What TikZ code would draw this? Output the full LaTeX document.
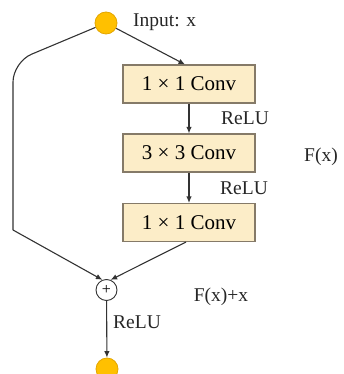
\documentclass[tikz,border=0pt]{standalone}
\usepackage{fontspec}
\setmainfont{Liberation Serif}
\usetikzlibrary{arrows.meta}
\definecolor{dotfill}{HTML}{FFC000}
\definecolor{dotline}{HTML}{E3A600}
\definecolor{boxfill}{HTML}{FCEDC8}
\definecolor{boxline}{HTML}{857A68}
\definecolor{wire}{HTML}{333333}
\begin{document}
\begin{tikzpicture}[x=1pt,y=-1pt,
  font=\fontsize{19.5}{21}\selectfont,
  dot/.style={circle,fill=dotfill,draw=dotline,line width=0.8pt,minimum size=22pt,inner sep=0pt},
  convbox/.style={rectangle,fill=boxfill,draw=boxline,line width=1.1pt,minimum width=132pt,minimum height=38pt,inner sep=0pt,font=\fontsize{21}{22}\selectfont},
  addnode/.style={circle,draw=wire,fill=white,line width=0.9pt,minimum size=21pt,inner sep=0pt,font=\fontsize{16}{16}\selectfont},
  wirestyle/.style={draw=wire,line width=1.1pt},
  arr/.style={wirestyle,-{Latex[length=6.5pt,width=5.5pt]}},
  lbl/.style={inner sep=0pt,text=black!85}
]
\useasboundingbox (0,0) rectangle (344,374);

% nodes
\node[dot] (in) at (106,23) {};
\node[lbl,anchor=west] (inlbl) at (133,22) {Input: x};
\node[convbox] (b1) at (189,84) {1 × 1 Conv};
\node[convbox] (b2) at (189,153) {3 × 3 Conv};
\node[convbox] (b3) at (189,222.5) {1 × 1 Conv};
\node[addnode] (add) at (106.5,290) {+};
\node[dot] (out) at (107,369) {};

% labels
\node[lbl,anchor=west] (r1) at (221,118) {ReLU};
\node[lbl,anchor=west] (r2) at (220,188) {ReLU};
\node[lbl,anchor=west] (r3) at (113,322) {ReLU};
\node[lbl] (fx) at (321,157) {F(x)};
\node[lbl] (fxx) at (221,297) {F(x)+x};

% skip path corners
\coordinate (lc1) at (13,62);
\coordinate (lc2) at (13,230);

% connectors
\draw[arr] (in) -- ([xshift=-4pt]b1.north);
\draw[wirestyle,rounded corners=20pt] (in) -- (lc1) -- (lc2);
\draw[arr] (lc2) -- (add.112);
\draw[arr] (b1) -- (b2);
\draw[arr] (b2) -- (b3);
\draw[arr] ([xshift=-3pt]b3.south) -- (add.68);
\draw[arr] (add) -- (out);
\end{tikzpicture}
\end{document}
